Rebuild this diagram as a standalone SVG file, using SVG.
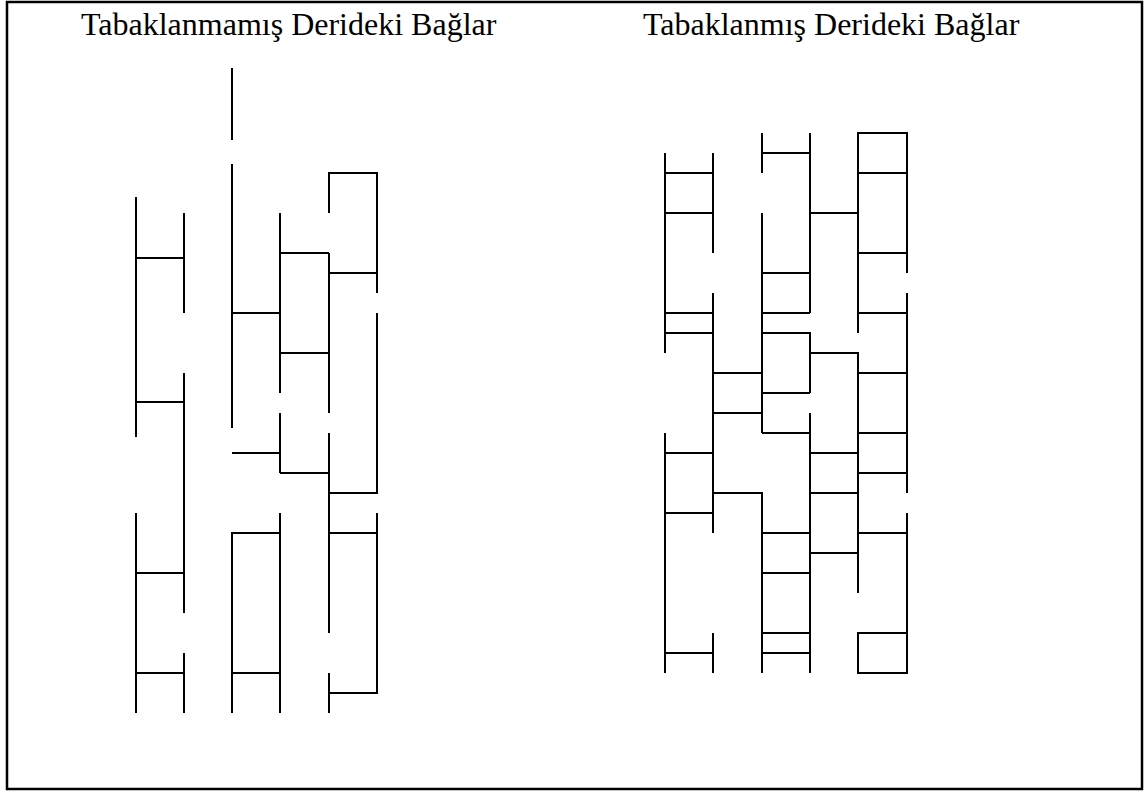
<svg xmlns="http://www.w3.org/2000/svg" width="1145" height="793" viewBox="0 0 1145 793">
<style>
.ln{fill:none;stroke:#000;stroke-width:2;stroke-linecap:butt;stroke-linejoin:miter}
.t{font-family:"Liberation Serif","Times New Roman",serif;font-size:32px;fill:#000}
</style>
<rect x="0" y="0" width="1145" height="793" fill="#fff"/>
<rect x="7" y="2" width="1135" height="787" fill="none" stroke="#000" stroke-width="2.5"/>
<g id="title-left"><text class="t" x="81" y="35">Tabaklanmamış Derideki Bağlar</text></g>
<g id="title-right"><text class="t" x="643" y="35">Tabaklanmış Derideki Bağlar</text></g>
<g id="untanned" class="ln">
<path d="M136 197V437M136 513V713M184 213V313M184 373V613M184 653V713"/>
<path d="M136 258H184M136 402H184M136 573H184M136 673H184"/>
<path d="M232 68V140M232 164V428M280 213V393M280 413V473M232 313H280M232 453H280"/>
<path d="M280 253H329M280 353H329M280 473H329"/>
<path d="M329 213V173H377V293M329 273H377M329 253V413M329 433V633M329 493H377V313"/>
<path d="M377 513V693H329M329 673V713M329 533H377"/>
<path d="M232 713V533H280M280 513V713M232 673H280"/>
</g>
<g id="tanned" class="ln">
<path d="M665 153V353M713 153V253M713 293V533M665 173H713M665 213H713M665 313H713M665 333H713"/>
<path d="M762 133V173M762 153H810M810 133V313M810 213H858M762 213V433M762 273H810M762 313H810M762 333H810V393M762 393H810"/>
<path d="M858 333V133H907V273M858 173H907M858 253H907M858 313H907M907 293V493"/>
<path d="M713 373H762M713 413H762M762 433H810M810 413V673M810 353H858V593M858 373H907M858 433H907M858 473H907"/>
<path d="M810 453H858M810 493H858M810 553H858M665 433V673M665 453H713M665 513H713M713 493H762V673M762 533H810M762 573H810M762 633H810M762 653H810"/>
<path d="M858 533H907M907 513V673H858V633H907M713 633V673M665 653H713"/>
</g>
</svg>
